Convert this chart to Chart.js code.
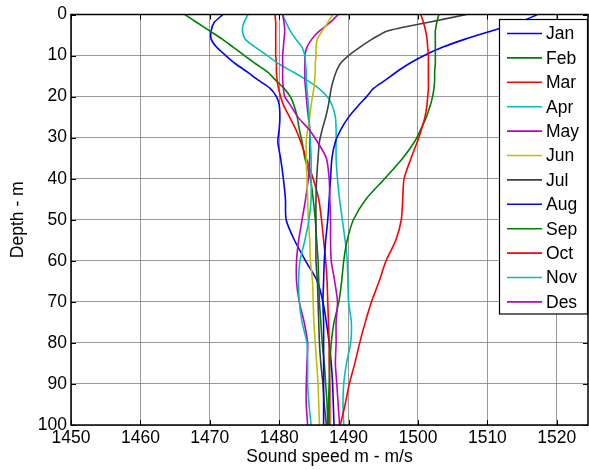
<!DOCTYPE html>
<html>
<head>
<meta charset="utf-8">
<script src="https://cdn.jsdelivr.net/npm/chart.js@4.4.0/dist/chart.umd.min.js"></script>
<style>
  html, body { margin: 0; padding: 0; background: #fff; }
  #wrap { width: 589px; height: 470px; }
</style>
</head>
<body>
<div id="wrap"><canvas id="chart" width="589" height="470"></canvas></div>
<script>
'use strict';

// depth of each sample (m)
const depths = [0, 2, 4, 6, 8, 10, 12, 14, 16, 18, 20, 22, 25, 28, 31, 35, 40, 45, 50, 55, 60, 65, 70, 75, 80, 85, 90, 95, 100];

// sound speed profiles (m/s), one value per depth
const jan = [1471.9, 1470.6, 1470.2, 1470.2, 1471.0, 1472.3, 1473.7, 1475.4, 1477.0, 1478.7, 1479.6, 1480.0, 1480.1, 1480.0, 1479.8, 1480.2, 1480.6, 1480.9, 1481.0, 1482.2, 1483.8, 1485.5, 1486.3, 1486.8, 1487.2, 1487.5, 1487.7, 1487.8, 1487.9];
const feb = [1466.4, 1468.2, 1470.0, 1471.8, 1473.4, 1475.0, 1476.6, 1478.3, 1479.5, 1480.7, 1481.6, 1482.1, 1482.6, 1482.9, 1483.3, 1483.7, 1484.5, 1484.9, 1485.2, 1485.4, 1485.6, 1485.7, 1485.8, 1486.0, 1486.2, 1486.5, 1486.7, 1486.9, 1487.0];
const mar = [1479.4, 1479.5, 1479.5, 1479.5, 1479.5, 1479.5, 1479.6, 1479.6, 1479.7, 1479.9, 1480.2, 1480.6, 1481.5, 1482.4, 1483.1, 1483.9, 1484.9, 1485.7, 1486.1, 1486.4, 1486.7, 1486.9, 1487.0, 1487.1, 1487.2, 1487.2, 1487.3, 1487.3, 1487.3];
const apr = [1475.5, 1474.9, 1474.7, 1475.1, 1476.6, 1478.3, 1479.9, 1482.0, 1484.0, 1485.7, 1486.9, 1487.6, 1488.1, 1488.2, 1488.2, 1488.2, 1488.4, 1488.7, 1489.1, 1489.5, 1489.8, 1489.9, 1490.0, 1490.4, 1490.3, 1489.7, 1489.3, 1489.2, 1489.3];
const may = [1488.5, 1487.3, 1485.8, 1484.7, 1484.0, 1483.7, 1483.7, 1483.7, 1483.7, 1483.8, 1483.9, 1484.0, 1484.2, 1484.4, 1484.4, 1484.4, 1484.2, 1483.8, 1483.3, 1482.8, 1482.5, 1482.5, 1482.9, 1483.6, 1484.1, 1484.0, 1483.9, 1483.9, 1484.1];
const jun = [1487.7, 1487.0, 1486.2, 1485.5, 1485.3, 1485.3, 1485.2, 1485.2, 1485.1, 1485.0, 1484.8, 1484.6, 1484.4, 1484.1, 1483.9, 1483.9, 1484.0, 1484.1, 1484.2, 1484.4, 1484.5, 1484.8, 1484.9, 1485.0, 1485.2, 1485.4, 1485.6, 1485.7, 1485.8];
const jul = [1507.0, 1501.2, 1495.6, 1493.4, 1491.6, 1490.0, 1488.8, 1488.2, 1487.8, 1487.5, 1487.3, 1487.1, 1486.7, 1486.2, 1485.8, 1485.6, 1485.4, 1485.3, 1485.3, 1485.3, 1485.3, 1485.5, 1485.6, 1485.7, 1485.8, 1486.0, 1486.3, 1486.5, 1486.8];
const aug = [1517.2, 1514.5, 1510.6, 1506.8, 1503.5, 1500.9, 1498.7, 1496.9, 1495.3, 1493.6, 1492.6, 1491.5, 1490.0, 1488.9, 1488.1, 1487.6, 1487.4, 1487.2, 1487.0, 1486.7, 1486.5, 1486.4, 1486.3, 1486.4, 1486.4, 1486.4, 1486.4, 1486.4, 1486.4];
const sep = [1503.0, 1502.7, 1502.5, 1502.5, 1502.5, 1502.5, 1502.5, 1502.4, 1502.4, 1502.3, 1502.1, 1501.8, 1501.2, 1500.4, 1499.5, 1497.8, 1495.2, 1492.5, 1490.7, 1489.8, 1489.3, 1489.0, 1488.6, 1487.9, 1487.5, 1487.3, 1487.2, 1487.1, 1487.1];
const oct = [1500.4, 1500.8, 1501.1, 1501.3, 1501.4, 1501.5, 1501.5, 1501.5, 1501.5, 1501.5, 1501.4, 1501.3, 1501.0, 1500.5, 1499.9, 1499.0, 1498.0, 1497.8, 1497.6, 1496.8, 1495.4, 1494.4, 1493.3, 1492.4, 1491.6, 1490.9, 1490.1, 1489.5, 1488.8];
const nov = [1480.5, 1481.0, 1481.6, 1482.4, 1483.3, 1483.7, 1483.8, 1483.9, 1483.9, 1484.0, 1484.1, 1484.2, 1484.3, 1484.4, 1484.5, 1484.6, 1484.6, 1484.6, 1484.3, 1483.7, 1483.0, 1482.8, 1482.9, 1483.3, 1484.0, 1484.1, 1484.1, 1484.3, 1484.6];
const des = [1480.5, 1480.7, 1480.8, 1480.7, 1480.6, 1480.5, 1480.5, 1480.5, 1480.5, 1480.6, 1480.8, 1481.6, 1482.7, 1484.3, 1485.5, 1486.8, 1487.2, 1487.3, 1487.4, 1487.4, 1487.5, 1488.0, 1488.4, 1488.2, 1488.2, 1488.1, 1488.3, 1488.5, 1488.7];

const months = ['Jan', 'Feb', 'Mar', 'Apr', 'May', 'Jun', 'Jul', 'Aug', 'Sep', 'Oct', 'Nov', 'Des'];
const profiles = [jan, feb, mar, apr, may, jun, jul, aug, sep, oct, nov, des];

const xTicks = [1450, 1460, 1470, 1480, 1490, 1500, 1510, 1520];
const yTicks = [0, 10, 20, 30, 40, 50, 60, 70, 80, 90, 100];

// old matlab colour order
const colors = ['#0000ff', '#008000', '#ff0000', '#00bfbf', '#bf00bf', '#bfbf00', '#404040'];

const FONT = 'Liberation Sans, Arial, sans-serif';

let datasets = [];
for (let i = 0; i < months.length; i++) {
  let pts = [];
  for (let j = 0; j < depths.length; j++) {
    pts.push({ x: profiles[i][j], y: depths[j] });
  }
  datasets.push({
    label: months[i],
    data: pts,
    showLine: true,
    borderColor: colors[i % colors.length],
    backgroundColor: colors[i % colors.length],
    borderWidth: 1.6,
    pointRadius: 0,
    tension: 0.25,
    order: months.length - i
  });
}

// frame, inward ticks and the legend box
const framePlugin = {
  id: 'frame',
  afterDraw(chart) {
    const ctx = chart.ctx;
    const a = chart.chartArea;
    const xs = chart.scales.x;
    const ys = chart.scales.y;
    ctx.save();
    ctx.strokeStyle = '#000';
    ctx.lineWidth = 1;
    ctx.beginPath();
    xTicks.forEach(v => {
      const px = Math.round(xs.getPixelForValue(v)) + 0.5;
      ctx.moveTo(px, a.top); ctx.lineTo(px, a.top + 5);
      ctx.moveTo(px, a.bottom); ctx.lineTo(px, a.bottom - 5);
    });
    yTicks.forEach(v => {
      const py = Math.round(ys.getPixelForValue(v)) + 0.5;
      ctx.moveTo(a.left, py); ctx.lineTo(a.left + 5, py);
      ctx.moveTo(a.right, py); ctx.lineTo(a.right - 5, py);
    });
    ctx.stroke();

    // legend
    const lx = 499.5, ly = 19.5, lw = 88, lh = 294.5;
    ctx.fillStyle = '#fff';
    ctx.fillRect(lx, ly, lw, lh);
    ctx.lineWidth = 1.2;
    ctx.strokeRect(lx, ly, lw, lh);
    ctx.font = '17.5px ' + FONT;
    ctx.textBaseline = 'middle';
    ctx.textAlign = 'left';
    for (let i = 0; i < months.length; i++) {
      const y = 33.5 + i * 24.4;
      ctx.strokeStyle = colors[i % colors.length];
      ctx.lineWidth = 1.6;
      ctx.beginPath();
      ctx.moveTo(507, y); ctx.lineTo(542, y);
      ctx.stroke();
      ctx.fillStyle = '#000';
      ctx.fillText(months[i], 546, y + 1);
    }

    // axes box
    ctx.strokeStyle = '#000';
    ctx.lineWidth = 1.5;
    ctx.strokeRect(a.left, a.top, a.right - a.left, a.bottom - a.top);
    ctx.restore();
  }
};

Chart.defaults.font.family = FONT;
Chart.defaults.color = '#000';

new Chart(document.getElementById('chart'), {
  type: 'scatter',
  data: { datasets: datasets },
  options: {
    responsive: false,
    animation: false,
    layout: { padding: { top: 13, right: 1, left: 0, bottom: 0 } },
    plugins: {
      legend: { display: false },
      tooltip: { enabled: false }
    },
    scales: {
      x: {
        type: 'linear',
        min: 1450,
        max: 1524.5,
        afterFit(scale) { scale.height = 45; },
        afterBuildTicks(scale) { scale.ticks = xTicks.map(v => ({ value: v })); },
        ticks: { font: { size: 17.5 }, padding: 3, maxRotation: 0, callback: v => String(v) },
        grid: { color: 'rgba(120,120,120,0.75)', lineWidth: 1, drawTicks: false },
        border: { display: false },
        title: { display: true, text: 'Sound speed m - m/s', font: { size: 17.5 }, padding: { top: 0, bottom: 2 } }
      },
      y: {
        type: 'linear',
        reverse: true,
        min: 0,
        max: 100,
        afterFit(scale) { scale.width = 71; },
        afterBuildTicks(scale) { scale.ticks = yTicks.map(v => ({ value: v })); },
        ticks: { font: { size: 17.5 }, padding: 4, callback: v => String(v) },
        grid: { color: 'rgba(120,120,120,0.75)', lineWidth: 1, drawTicks: false },
        border: { display: false },
        title: { display: true, text: 'Depth - m', font: { size: 17.5 }, padding: { top: 8, bottom: 0 } }
      }
    }
  },
  plugins: [framePlugin]
});
</script>
</body>
</html>
